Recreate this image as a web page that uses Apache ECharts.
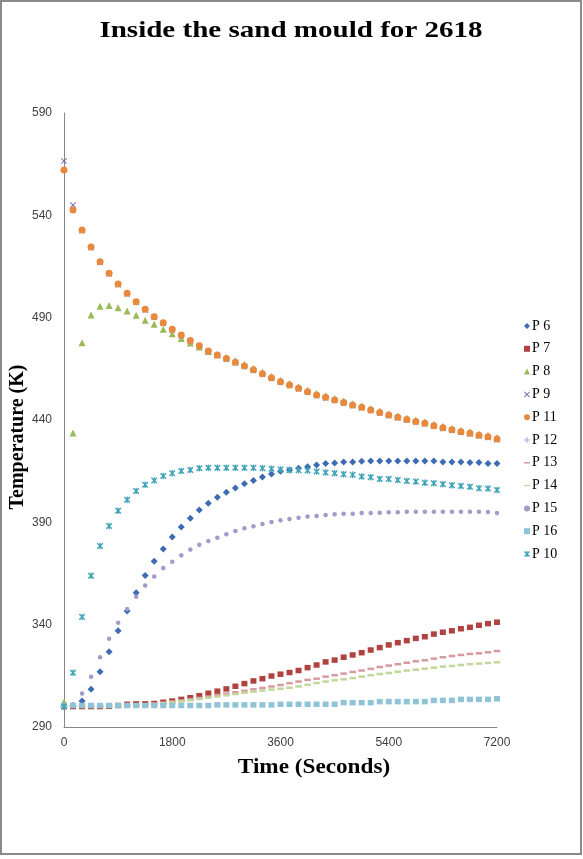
<!DOCTYPE html>
<html>
<head>
<meta charset="utf-8">
<script src="https://cdn.jsdelivr.net/npm/echarts@6/dist/echarts.min.js"></script>
<style>
html,body{margin:0;padding:0;background:#fff;}
#chart{width:583px;height:859px;}
</style>
</head>
<body>
<div id="chart"></div>
<script>
// Time in seconds (every 150 s)
const times = [0,150,300,450,600,750,900,1050,1200,1350,1500,1650,1800,1950,2100,2250,2400,2550,2700,2850,3000,3150,3300,3450,3600,3750,3900,4050,4200,4350,4500,4650,4800,4950,5100,5250,5400,5550,5700,5850,6000,6150,6300,6450,6600,6750,6900,7050,7200];

const p6  = [300,300.4,302.7,308.4,317,326.8,337,346.7,355.6,364,371,377,382.8,387.7,392,396,399.3,402.2,404.7,406.8,408.9,410.5,412.2,413.6,415,415.6,416.4,417.2,418,418.8,419,419.5,419.5,419.8,420,420,420,420,420,420,420,420,419.5,419.5,419.5,419.2,419.2,418.8,418.8];
const p7  = [300,300,300,300,300,300.1,300.5,301.1,301.3,301.3,301.5,302.1,302.7,303.5,304.3,305.3,306.5,307.5,308.6,309.9,311.2,312.5,313.6,314.9,315.8,316.6,317.6,319.0,320.3,321.8,322.7,324.1,325.2,326.3,327.6,328.8,330.1,331.2,332.2,333.3,334.1,335.4,336.3,337,338,338.7,339.7,340.5,341.2];
const p8  = [302.2,433.6,477.8,491.3,495.6,495.9,494.9,493.3,491.2,488.7,486.8,484.3,482.2,479.8,477.6,475.7,473.5,471.9,470.7,468.9,467.1,465.2,463.3,461.3,459.4,457.8,456.2,454.5,452.9,451.8,450.5,449.3,448.0,446.9,445.6,444.4,443.1,442.0,441.0,440.0,439.1,437.9,436.9,435.9,435.0,434.2,433.2,432.5,431.4];
const p9  = [566.5,545.0,532.5,524.2,517.0,511.4,506.1,501.6,497.5,493.8,490.2,487.2,484.0,481.2,478.6,476.0,473.4,471.5,469.7,467.9,466.1,464.2,462.3,460.3,458.4,456.8,455.2,453.5,451.9,450.8,449.5,448.3,447.0,445.9,444.6,443.4,442.1,441.0,440.0,439.0,438.1,436.9,435.9,434.9,434.0,433.2,432.2,431.5,430.4];
const p11 = [562.2,542.6,532.8,524.5,517.3,511.7,506.4,501.9,497.8,494.1,490.5,487.5,484.3,481.5,478.9,476.3,473.7,471.8,470,468.2,466.4,464.5,462.6,460.6,458.7,457.1,455.5,453.8,452.2,451.1,449.8,448.6,447.3,446.2,444.9,443.7,442.4,441.3,440.3,439.3,438.4,437.2,436.2,435.2,434.3,433.5,432.5,431.8,430.7];
const p12 = [300,300.9,306.2,314.4,323.9,332.9,340.7,347.4,353.5,358.9,363.3,367.5,370.6,373.7,376.5,378.8,380.7,382.3,384.0,385.6,386.9,387.9,389.0,390.0,390.8,391.4,392.1,392.6,392.9,393.4,393.7,394.0,394.0,394.3,394.3,394.5,394.7,394.7,395.0,395.0,395.0,395.0,395.0,395.0,395.0,395.0,395.0,394.8,394.3];
const p13 = [300,300,300,300,300,300,300.1,300.3,300.6,301,301.4,301.9,302.4,303,303.6,304.2,304.9,305.6,306.3,307,307.7,308.4,309.1,309.8,310.5,311.4,312.2,313.0,313.6,314.6,315.3,316.1,316.9,317.6,318.4,319.3,320.0,320.7,321.4,322.1,322.6,323.4,324.1,324.7,325.2,325.7,326.0,326.5,327.1];
const p14 = [300,300,300,300,300,300,300.1,300.2,300.5,300.8,301.2,301.6,302.1,302.6,303.1,303.7,304.3,304.9,305.5,306.1,306.7,307.3,307.8,308.3,308.7,309.2,309.8,310.6,311.5,312.2,312.8,313.3,313.9,314.6,315.3,315.9,316.4,317.0,317.6,318.0,318.5,319.0,319.5,319.8,320.3,320.7,321.0,321.3,321.6];
const p15 = [300,301,306.4,314.6,324.1,333.1,340.9,347.6,353.7,359.1,363.5,367.7,370.8,373.9,376.7,379,380.9,382.5,384.2,385.8,387.1,388.1,389.2,390.2,391,391.6,392.3,392.8,393.1,393.6,393.9,394.2,394.2,394.5,394.5,394.7,394.9,394.9,395.2,395.2,395.2,395.2,395.2,395.2,395.2,395.2,395.2,395,394.5];
const p16 = [300.5,300.5,300.5,300.5,300.5,300.5,300.5,300.5,300.5,300.5,300.5,300.5,300.5,300.5,300.5,300.5,300.5,300.8,300.8,300.8,300.8,300.8,300.8,300.8,301.1,301.1,301.1,301.1,301.1,301.1,301.1,301.9,301.9,301.9,301.9,302.4,302.4,302.4,302.4,302.4,302.4,303.0,303.0,303.0,303.5,303.5,303.5,303.5,303.8];
const p10 = [300,316.5,343.8,363.9,378.4,388.2,395.7,401,405.3,408.4,410.5,412.6,414,415.1,415.6,416.4,416.7,416.7,416.7,416.7,416.7,416.7,416.4,416.2,415.8,415.6,415.4,415.3,414.8,414.3,414.0,413.5,413.2,412.4,412.0,411.2,411.2,410.7,410.2,409.9,409.4,409.1,408.6,408.1,407.8,407.4,406.6,406.5,405.8];

const seriesNames = ['P 6','P 7','P 8','P 9','P 11','P 12','P 13','P 14','P 15','P 16','P 10'];
const yTicks = {min: 290, max: 590, interval: 50};
const xTicks = {min: 0, max: 7200, interval: 1800};

const XPATH = 'path://M0,1.2 L1.2,0 L5,3.8 L8.8,0 L10,1.2 L6.2,5 L10,8.8 L8.8,10 L5,6.2 L1.2,10 L0,8.8 L3.8,5 Z';
const STARPATH = 'path://M0,1.5 L1.5,0 L5,3.5 L8.5,0 L10,1.5 L6.5,5 L10,8.5 L8.5,10 L5,6.5 L1.5,10 L0,8.5 L3.5,5 Z M4,0 L6,0 L6,10 L4,10 Z';
const PLUSPATH = 'path://M4.2,0 L5.8,0 L5.8,4.2 L10,4.2 L10,5.8 L5.8,5.8 L5.8,10 L4.2,10 L4.2,5.8 L0,5.8 L0,4.2 L4.2,4.2 Z';
const DASHPATH = 'path://M0,0 L0.01,0 L0,0.01 Z M0,3.8 L10,3.8 L10,6.2 L0,6.2 Z M10,10 L9.99,10 L10,9.99 Z';

const styles = [
  {data: p6,  color: '#3D6CB4', symbol: 'diamond', size: 7},
  {data: p7,  color: '#B0423F', symbol: 'rect', size: [6,5.5]},
  {data: p8,  color: '#9BBB59', symbol: 'triangle', size: 7},
  {data: p9,  color: '#7A66A6', symbol: XPATH, size: 6},
  {data: p11, color: '#E9893E', symbol: 'circle', size: 7},
  {data: p12, color: '#9EA6D4', symbol: PLUSPATH, size: 4},
  {data: p13, color: '#D79AA0', symbol: 'rect', size: [6.5,2.5]},
  {data: p14, color: '#C3D69B', symbol: 'rect', size: [6.5,2.5]},
  {data: p15, color: '#A29CCB', symbol: 'circle', size: 4.5},
  {data: p16, color: '#8EC3D8', symbol: 'rect', size: [6,5.5]},
  {data: p10, color: '#3FA3B8', symbol: STARPATH, size: 6.5}
];

const legendIcons = {'P 13': DASHPATH, 'P 14': DASHPATH};

const series = seriesNames.map((name, i) => ({
  name: name,
  type: 'scatter',
  data: times.map((t, k) => [t, styles[i].data[k]]),
  symbol: styles[i].symbol,
  symbolSize: styles[i].size,
  itemStyle: {color: styles[i].color, opacity: 1},
  emphasis: {disabled: true},
  animation: false
}));

const chart = echarts.init(document.getElementById('chart'), null, {renderer: 'canvas'});
chart.setOption({
  backgroundColor: '#ffffff',
  animation: false,
  grid: {left: 64, right: 86, top: 113, bottom: 132, containLabel: false},
  xAxis: {
    type: 'value', min: xTicks.min, max: xTicks.max, interval: xTicks.interval,
    axisLine: {show: true, lineStyle: {color: '#868686', width: 1}},
    axisTick: {show: false},
    splitLine: {show: false},
    axisLabel: {color: '#404040', fontFamily: 'Liberation Sans', fontSize: 12, margin: 10, formatter: v => String(v)}
  },
  yAxis: {
    type: 'value', min: yTicks.min, max: yTicks.max, interval: yTicks.interval,
    axisLine: {show: true, lineStyle: {color: '#868686', width: 1}},
    axisTick: {show: false},
    splitLine: {show: false},
    axisLabel: {color: '#404040', fontFamily: 'Liberation Sans', fontSize: 12, margin: 12, formatter: v => String(v)}
  },
  legend: {
    orient: 'vertical',
    left: 519, top: 314,
    itemWidth: 6, itemHeight: 6, itemGap: 8.8,
    selectedMode: false,
    textStyle: {fontFamily: 'Liberation Serif', fontSize: 14, color: '#000', lineHeight: 13, padding: [0,0,0,-3]},
    data: seriesNames.map(n => legendIcons[n] ? {name: n, icon: legendIcons[n]} : {name: n})
  },
  graphic: [
    {type: 'rect', shape: {x: 1, y: 1, width: 580, height: 853}, style: {fill: 'none', stroke: '#8a8a8a', lineWidth: 2}, silent: true},
    {type: 'text', x: 291, y: 31, scaleX: 1.21, style: {text: 'Inside the sand mould for 2618', font: 'bold 24px "Liberation Serif"', fill: '#000', textAlign: 'center', textVerticalAlign: 'middle'}},
    {type: 'text', x: 314, y: 768, scaleX: 1.16, style: {text: 'Time (Seconds)', font: 'bold 20px "Liberation Serif"', fill: '#000', textAlign: 'center', textVerticalAlign: 'middle'}},
    {type: 'text', x: 18, y: 437, rotation: Math.PI / 2, style: {text: 'Temperature (K)', font: 'bold 20px "Liberation Serif"', fill: '#000', textAlign: 'center', textVerticalAlign: 'middle'}}
  ],
  series: series
});
</script>
</body>
</html>
